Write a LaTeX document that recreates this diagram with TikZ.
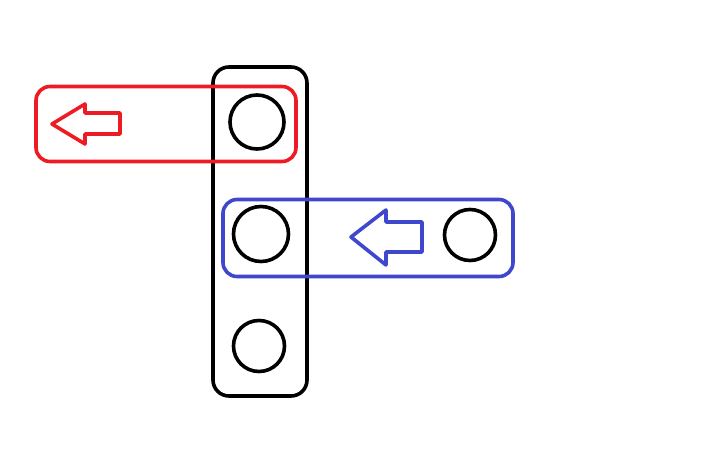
\documentclass[tikz,border=0pt]{standalone}
\usepackage{xcolor}
\usepackage{tikz}
\usetikzlibrary{positioning}

\definecolor{paintred}{RGB}{237,28,36}
\definecolor{paintblue}{RGB}{63,72,204}

\begin{document}
\begin{tikzpicture}[x=1pt, y=-1pt,
			line width=3.6pt,
			line join=round,
			frame/.style={draw, rounded corners=16pt, inner sep=0pt},
			hole/.style={draw=black, circle, inner sep=0pt}]
			
			\useasboundingbox (0,0) rectangle (706,473);
			
			\node (column) [frame, draw=black, minimum width=94pt, minimum height=329pt] at (260,231.5) {};
			\node (top) [hole, minimum size=54pt] at (257,122) {};
			\node (mid) [hole, minimum size=55pt] at (261,234) {};
			\node (bot) [hole, minimum size=51pt] at (259,346) {};
			\node (right) [hole, minimum size=51pt] at (470,235) {};
			
			\node (redbox) [frame, draw=paintred, minimum width=260pt, minimum height=75pt, rounded corners=14pt] at (166,124) {};
			\node (bluebox) [frame, draw=paintblue, minimum width=290pt, minimum height=77pt, rounded corners=14pt] at (368,238) {};
			
			\draw[paintred] (52,124) -- (85,104) -- (85,113) -- (120,113) -- (120,134) -- (85,134) -- (85,144) -- cycle;
			\draw[paintblue] (351,237) -- (386,210) -- (386,222) -- (422,222) -- (422,252) -- (386,252) -- (386,265) -- cycle;
		\end{tikzpicture}
\end{document}
